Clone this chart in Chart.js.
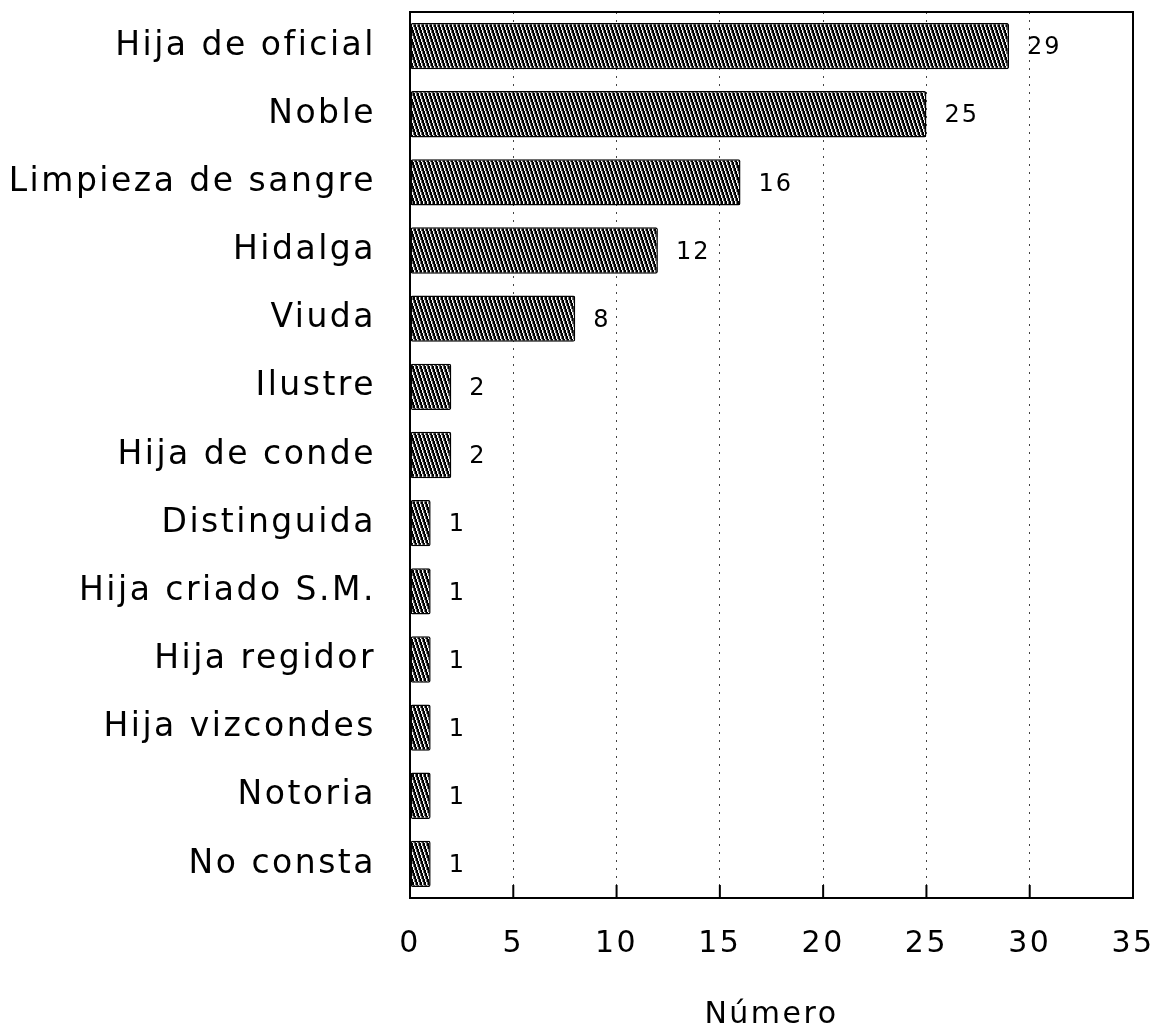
<!DOCTYPE html>
<html>
<head>
<meta charset="utf-8">
<script src="https://cdn.jsdelivr.net/npm/chart.js@4.4.1/dist/chart.umd.min.js"></script>
<style>
  html, body { margin: 0; padding: 0; background: #fff; }
  #wrap { width: 1158px; height: 1033px; }
</style>
</head>
<body>
<div id="wrap"><canvas id="chart"></canvas></div>
<script>
var categories = ['Hija de oficial', 'Noble', 'Limpieza de sangre', 'Hidalga', 'Viuda', 'Ilustre',
    'Hija de conde', 'Distinguida', 'Hija criado S.M.', 'Hija regidor', 'Hija vizcondes', 'Notoria', 'No consta'];
var counts = [29, 25, 16, 12, 8, 2, 2, 1, 1, 1, 1, 1, 1];
var xTicks = [0, 5, 10, 15, 20, 25, 30, 35];
var axisTitle = 'Número';

var FONT = '"DejaVu Sans", sans-serif';

// fine steep backslash hatch, white lines on black
function makeHatch() {
    var c = document.createElement('canvas');
    c.width = 4; c.height = 12;
    var g = c.getContext('2d');
    var img = g.createImageData(4, 12);
    for (var y = 0; y < 12; y++) {
        for (var x = 0; x < 4; x++) {
            var k = (y * 4 + x) * 4;
            var s = Math.floor(y / 3) % 4;
            var v = 0;
            if (x === s) v = 255;
            else if (x === (s + 1) % 4) v = 110;
            img.data[k] = v; img.data[k + 1] = v; img.data[k + 2] = v; img.data[k + 3] = 255;
        }
    }
    g.putImageData(img, 0, 0);
    return g.createPattern(c, 'repeat');
}

var spacingPlugin = {
    id: 'spacing',
    beforeUpdate: function(chart) { chart.ctx.letterSpacing = '2.5px'; },
    beforeDraw: function(chart) { chart.ctx.letterSpacing = '2.5px'; }
};

var framePlugin = {
    id: 'frame',
    afterDatasetsDraw: function(chart) {
        var ctx = chart.ctx, a = chart.chartArea, x = chart.scales.x;
        ctx.save();
        ctx.strokeStyle = '#000';
        ctx.lineWidth = 2;
        ctx.strokeRect(a.left, a.top, a.right - a.left, a.bottom - a.top);
        // short tick marks inside the bottom axis
        xTicks.forEach(function(v) {
            if (v === 0 || v === 35) return;
            var px = x.getPixelForValue(v);
            ctx.beginPath();
            ctx.moveTo(px, a.bottom);
            ctx.lineTo(px, a.bottom - 13);
            ctx.stroke();
        });
        // value labels
        var meta = chart.getDatasetMeta(0);
        ctx.fillStyle = '#000';
        ctx.font = '24px ' + FONT;
        ctx.letterSpacing = '2px';
        ctx.textBaseline = 'middle';
        ctx.textAlign = 'left';
        meta.data.forEach(function(bar, i) {
            ctx.fillText(String(counts[i]), bar.x + 18, bar.y + 2);
        });
        ctx.restore();
    }
};

var ctx = document.getElementById('chart');
new Chart(ctx, {
    type: 'bar',
    data: {
        labels: categories,
        datasets: [{
            data: counts,
            backgroundColor: makeHatch(),
            borderColor: '#000',
            borderWidth: 1.5,
            borderRadius: 2,
            borderSkipped: false,
            categoryPercentage: 1,
            barPercentage: 0.68
        }]
    },
    options: {
        indexAxis: 'y',
        responsive: true,
        maintainAspectRatio: false,
        animation: false,
        layout: { padding: { top: 12, right: 25, bottom: 0, left: 0 } },
        plugins: { legend: { display: false }, tooltip: { enabled: false } },
        scales: {
            x: {
                min: 0, max: 35,
                ticks: { stepSize: 5, color: '#000', padding: 28, font: { family: FONT, size: 30 } },
                grid: { color: '#444', lineWidth: 1, drawTicks: false },
                border: { display: true, color: '#000', width: 2, dash: [2, 6] },
                title: { display: true, text: axisTitle, color: '#000', font: { family: FONT, size: 30 }, padding: { top: 0, bottom: 0 } },
                afterFit: function(scale) {
                    scale.height = 135;
                    scale.paddingLeft = 0; scale.paddingRight = 0;
                }
            },
            y: {
                ticks: { color: '#000', padding: 34, font: { family: FONT, size: 33 } },
                grid: { display: false, drawTicks: false },
                border: { display: true, color: '#000', width: 2 },
                afterFit: function(scale) {
                    scale.width = 410;
                    scale.paddingTop = 0; scale.paddingBottom = 0;
                }
            }
        }
    },
    plugins: [spacingPlugin, framePlugin]
});
</script>
</body>
</html>
